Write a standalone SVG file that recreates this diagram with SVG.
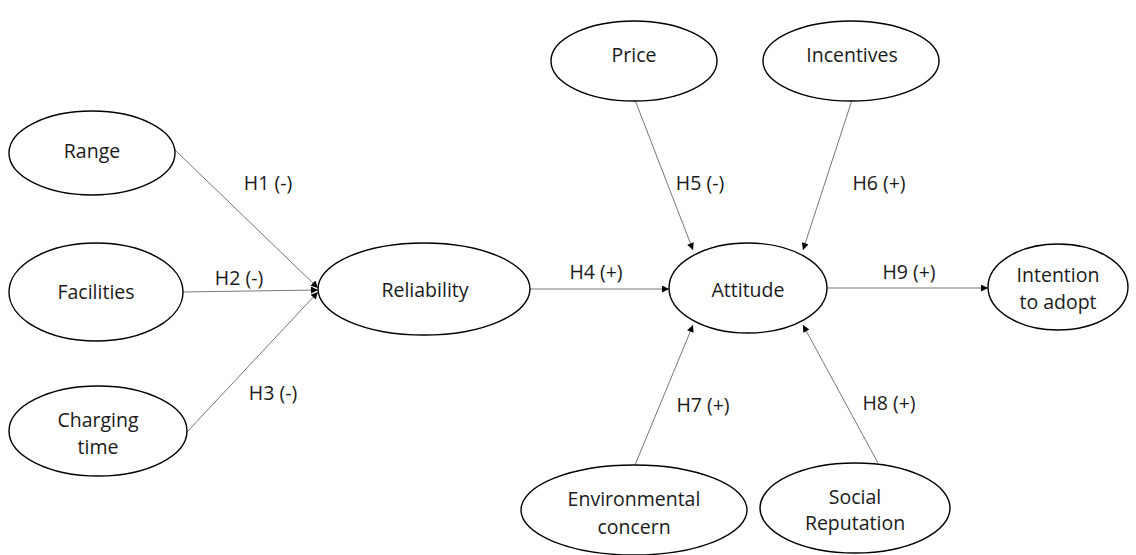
<svg xmlns="http://www.w3.org/2000/svg" width="1136" height="555" viewBox="0 0 1136 555">
<style>
.n ellipse{fill:#fff;stroke:#000;stroke-width:1.4}
text{font-family:"Open Sans","Noto Sans",sans-serif;font-size:19.5px;fill:#1a1a1a;text-anchor:middle}
.c line{stroke:#777;stroke-width:1;marker-end:url(#ah)}
</style>
<defs>
<marker id="ah" viewBox="0 0 10 10" refX="10" refY="5" markerWidth="9" markerHeight="7" markerUnits="userSpaceOnUse" orient="auto">
<path d="M0,0 L10,5 L0,10 Z" fill="#000"/>
</marker>
</defs>
<rect width="1136" height="555" fill="#fff"/>
<g class="c" id="connectors">
<line x1="175" y1="150" x2="318" y2="288"/>
<line x1="183" y1="292" x2="318" y2="290"/>
<line x1="187" y1="432" x2="318" y2="292"/>
<line x1="530" y1="289" x2="669" y2="289"/>
<line x1="635" y1="100" x2="693" y2="250"/>
<line x1="852" y1="100" x2="803" y2="250"/>
<line x1="635" y1="465" x2="693" y2="325"/>
<line x1="878" y1="463" x2="803" y2="325"/>
<line x1="827" y1="288" x2="988" y2="288"/>
</g>
<g id="labels">
<text x="268" y="190">H1 (-)</text>
<text x="239" y="285">H2 (-)</text>
<text x="273" y="400">H3 (-)</text>
<text x="596" y="279">H4 (+)</text>
<text x="700" y="190">H5 (-)</text>
<text x="879" y="190">H6 (+)</text>
<text x="703" y="412">H7 (+)</text>
<text x="889" y="410">H8 (+)</text>
<text x="909" y="279">H9 (+)</text>
</g>
<g class="n" id="range"><ellipse cx="92" cy="153" rx="83" ry="42"/><text x="92" y="158">Range</text></g>
<g class="n" id="facilities"><ellipse cx="96" cy="292" rx="87" ry="49"/><text x="96" y="299">Facilities</text></g>
<g class="n" id="charging"><ellipse cx="98" cy="431" rx="89" ry="45"/><text x="98" y="427">Charging</text><text x="98" y="454">time</text></g>
<g class="n" id="reliability"><ellipse cx="424" cy="289" rx="106" ry="46"/><text x="425" y="297">Reliability</text></g>
<g class="n" id="attitude"><ellipse cx="748" cy="288" rx="79" ry="45"/><text x="748" y="297">Attitude</text></g>
<g class="n" id="intention"><ellipse cx="1058" cy="287" rx="70" ry="43"/><text x="1058" y="282">Intention</text><text x="1058" y="309">to adopt</text></g>
<g class="n" id="price"><ellipse cx="634" cy="61" rx="83" ry="40"/><text x="634" y="62">Price</text></g>
<g class="n" id="incentives"><ellipse cx="851" cy="61" rx="88" ry="40"/><text x="852" y="62">Incentives</text></g>
<g class="n" id="environmental"><ellipse cx="634" cy="510" rx="113" ry="45"/><text x="634" y="506">Environmental</text><text x="634" y="534">concern</text></g>
<g class="n" id="social"><ellipse cx="855" cy="508" rx="95" ry="45"/><text x="855" y="504">Social</text><text x="855" y="530">Reputation</text></g>
</svg>
